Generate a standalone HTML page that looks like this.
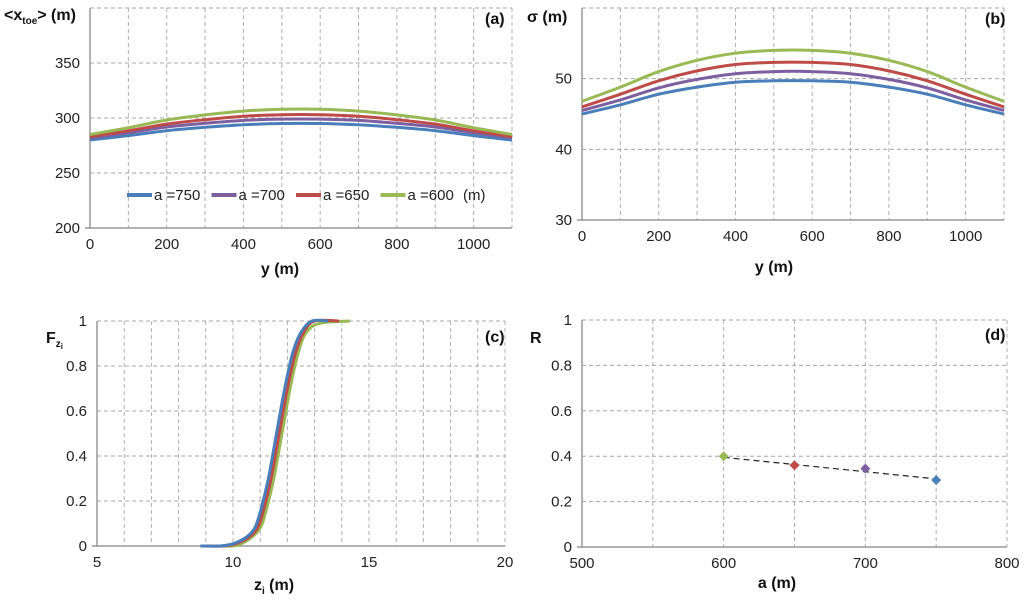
<!DOCTYPE html>
<html><head><meta charset="utf-8">
<style>
body{margin:0;background:#fff;}
svg{display:block;font-family:"Liberation Sans",sans-serif;}
.tick{font-size:15px;fill:#222;}
.title{font-size:16px;font-weight:bold;fill:#111;}
</style></head>
<body>
<svg id="chart" width="1024" height="600" viewBox="0 0 1024 600"></svg>
<script>
const NS='http://www.w3.org/2000/svg';
const svg=document.getElementById('chart');
const colors=['#4a7ebb','#7d5fa0','#be4b48','#98b954'];
// Panel a
const aY=[0,100,200,300,400,500,600,700,800,900,1000,1100];
const aBlue=[280,284,288.5,291.5,293.8,295,295,293.8,291.5,288.5,284,280];
const aPurple=[282,286.6,291.8,295.2,297.8,299,299,297.8,295.2,291.8,286.6,282];
const aRed=[283,288.4,294.5,298.5,301.6,303,303,301.6,298.5,294.5,288.4,283];
const aGreen=[285,291.2,298.2,302.8,306.3,308,308,306.3,302.8,298.2,291.2,285];
const aXTicks=[0,200,400,600,800,1000];
const aYTicks=[200,250,300,350];
const legendLabels=['a =750','a =700','a =650','a =600'];
// Panel b
const bBlue=[45,46.3,47.8,48.8,49.5,49.7,49.7,49.5,48.8,47.8,46.3,45];
const bPurple=[45.5,47,48.7,49.9,50.7,51,51,50.7,49.9,48.7,47,45.5];
const bRed=[46,47.8,49.7,51.1,52,52.3,52.3,52,51.1,49.7,47.8,46];
const bGreen=[46.8,48.8,51,52.6,53.6,54,54,53.6,52.6,51,48.8,46.8];
const bYTicks=[30,40,50];
// Panel c
const cBlueX=[8.8,9.5,10,10.5,10.8,11,11.3,11.6,11.9,12.2,12.5,12.9,13.5];
const cBlueY=[0,0,0.01,0.04,0.08,0.15,0.3,0.5,0.7,0.86,0.95,1,1];
const cRedX=[9,9.6,10.1,10.6,10.9,11.1,11.4,11.7,12,12.3,12.6,13,13.9];
const cRedY=[0,0,0.01,0.04,0.08,0.15,0.3,0.5,0.7,0.86,0.95,1,1];
const cGreenX=[9.4,10,10.3,10.7,11,11.2,11.5,11.8,12.1,12.4,12.7,13.2,14.3];
const cGreenY=[0,0,0.01,0.04,0.08,0.15,0.3,0.5,0.7,0.86,0.95,0.99,1];
const cXTicks=[5,10,15,20];
const fracTicks=[0,0.2,0.4,0.6,0.8,1];
const fracLabels=['0','0.2','0.4','0.6','0.8','1'];
// Panel d
const dA=[600,650,700,750];
const dR=[0.40,0.36,0.345,0.295];
const dFit=[0.395,0.30];
const dXTicks=[500,600,700,800];

function el(tag,attrs,parent,name,inter){
  const e=document.createElementNS(NS,tag);
  for(const k in attrs)e.setAttribute(k,attrs[k]);
  
  
  (parent||svg).appendChild(e);return e;
}
function panel(p){
  const g=el('g',{},svg,'panel-'+p.id,false);
  const sx=v=>p.x0+(v-p.xmin)/(p.xmax-p.xmin)*(p.x1-p.x0);
  const sy=v=>p.y0-(v-p.ymin)/(p.ymax-p.ymin)*(p.y0-p.y1);
  for(const v of p.xgrid){const x=sx(v);el('line',{x1:x,x2:x,y1:p.y1,y2:p.y0,stroke:'#b0b0b0','stroke-dasharray':'4,3'},g,'x-gridline',false);}
  for(const v of p.ygrid){const y=sy(v);el('line',{x1:p.x0,x2:p.x1,y1:y,y2:y,stroke:'#a8a8a8','stroke-dasharray':'4,3'},g,'y-gridline',false);}
  el('line',{x1:p.x0,x2:p.x0,y1:p.y1,y2:p.y0+1,stroke:'#999','stroke-width':1.5},g,'y-axis-line',false);
  el('line',{x1:p.x0-5,x2:p.x1,y1:p.y0,y2:p.y0,stroke:'#999','stroke-width':1.5},g,'x-axis-line',false);
  p.xticks.forEach((v,i)=>{const t=el('text',{x:sx(v),y:p.y0+21,'text-anchor':'middle',class:'tick'},g,'x-tick-label',false);t.textContent=p.xlabels?p.xlabels[i]:v;});
  p.yticks.forEach((v,i)=>{const t=el('text',{x:p.x0-10,y:sy(v)+5,'text-anchor':'end',class:'tick'},g,'y-tick-label',false);t.textContent=p.ylabels?p.ylabels[i]:v;});
  return {g,sx,sy};
}
function line(P,xs,ys,color,name,w){
  const pts=xs.map((x,i)=>[P.sx(x),P.sy(ys[i])]);
  let d='M'+pts[0][0].toFixed(1)+','+pts[0][1].toFixed(1);
  for(let i=0;i<pts.length-1;i++){
    const p0=pts[Math.max(0,i-1)],p1=pts[i],p2=pts[i+1],p3=pts[Math.min(pts.length-1,i+2)];
    const c1=[p1[0]+(p2[0]-p0[0])/6,p1[1]+(p2[1]-p0[1])/6];
    const c2=[p2[0]-(p3[0]-p1[0])/6,p2[1]-(p3[1]-p1[1])/6];
    d+='C'+c1.map(v=>v.toFixed(1))+' '+c2.map(v=>v.toFixed(1))+' '+p2.map(v=>v.toFixed(1));
  }
  el('path',{d,fill:'none',stroke:color,'stroke-width':w||3,'stroke-linejoin':'round'},P.g,name,false);
}
function text(s,x,y,cls,name,anchor){const t=el('text',{x,y,class:cls,'text-anchor':anchor||'start'},svg,name,false);t.innerHTML=s;return t;}

// A
const A=panel({id:'a',x0:90,x1:512,y0:228,y1:8,xmin:0,xmax:1100,ymin:200,ymax:400,
  xgrid:[100,200,300,400,500,600,700,800,900,1000,1100],ygrid:[250,300,350,400],xticks:aXTicks,yticks:aYTicks});
[aBlue,aPurple,aRed,aGreen].forEach((s,i)=>line(A,aY,s,colors[i],'series-'+legendLabels[i].replace(/\D/g,'')));
legendLabels.forEach((lb,i)=>{
  const x=127+i*84.5;
  el('line',{x1:x,x2:x+25,y1:195,y2:195,stroke:colors[i],'stroke-width':4},svg,'legend-swatch',false);
  text(lb,x+27,200,'tick','legend-entry');
});
text('(m)',463,200,'tick','legend-unit');
text('&lt;x<tspan font-size="10" dy="4">toe</tspan><tspan dy="-4">&gt; (m)</tspan>',4,20,'title','y-axis-title-a');
text('(a)',485,24,'title','panel-label-a');
text('y (m)',280,274,'title','x-axis-title-a','middle');

// B
const B=panel({id:'b',x0:582,x1:1004,y0:220,y1:8,xmin:0,xmax:1100,ymin:30,ymax:60,
  xgrid:[100,200,300,400,500,600,700,800,900,1000,1100],ygrid:[40,50,60],xticks:aXTicks,yticks:bYTicks});
[bBlue,bPurple,bRed,bGreen].forEach((s,i)=>line(B,aY,s,colors[i],'sigma-series-'+legendLabels[i].replace(/\D/g,'')));
text('σ (m)',527,22,'title','y-axis-title-b');
text('(b)',985,24,'title','panel-label-b');
text('y (m)',774,272,'title','x-axis-title-b','middle');

// C
const C=panel({id:'c',x0:97,x1:505,y0:546,y1:321,xmin:5,xmax:20,ymin:0,ymax:1,
  xgrid:[6,7,8,9,10,11,12,13,14,15,16,17,18,19,20],ygrid:[0.2,0.4,0.6,0.8,1],xticks:cXTicks,yticks:fracTicks,ylabels:fracLabels});
line(C,cGreenX,cGreenY,colors[3],'cdf-600',3);
line(C,cRedX,cRedY,colors[2],'cdf-650',3);
line(C,cBlueX,cBlueY,colors[0],'cdf-750',3);
text('F<tspan font-size="10" dy="4">z</tspan><tspan font-size="8" dy="2">i</tspan>',46,343,'title','y-axis-title-c');
text('(c)',485,342,'title','panel-label-c');
text('z<tspan font-size="10" dy="4">i</tspan><tspan dy="-4"> (m)</tspan>',274,590,'title','x-axis-title-c','middle');

// D
const D=panel({id:'d',x0:582,x1:1007,y0:547,y1:320,xmin:500,xmax:800,ymin:0,ymax:1,
  xgrid:[550,600,650,700,750,800],ygrid:[0.2,0.4,0.6,0.8,1],xticks:dXTicks,yticks:fracTicks,ylabels:fracLabels});
el('line',{x1:D.sx(dA[0]),x2:D.sx(dA[3]),y1:D.sy(dFit[0]),y2:D.sy(dFit[1]),stroke:'#222','stroke-width':1.2,'stroke-dasharray':'6,4'},D.g,'trend-line',false);
const mc=[colors[3],colors[2],colors[1],colors[0]];
dA.forEach((a,i)=>{const x=D.sx(a),y=D.sy(dR[i]);
  el('path',{d:`M${x},${y-5}L${x+5},${y}L${x},${y+5}L${x-5},${y}Z`,fill:mc[i]},D.g,'point-a'+a,false);});
text('R',530,343,'title','y-axis-title-d');
text('(d)',985,340,'title','panel-label-d');
text('a (m)',777,588,'title','x-axis-title-d','middle');
</script>
</body></html>
